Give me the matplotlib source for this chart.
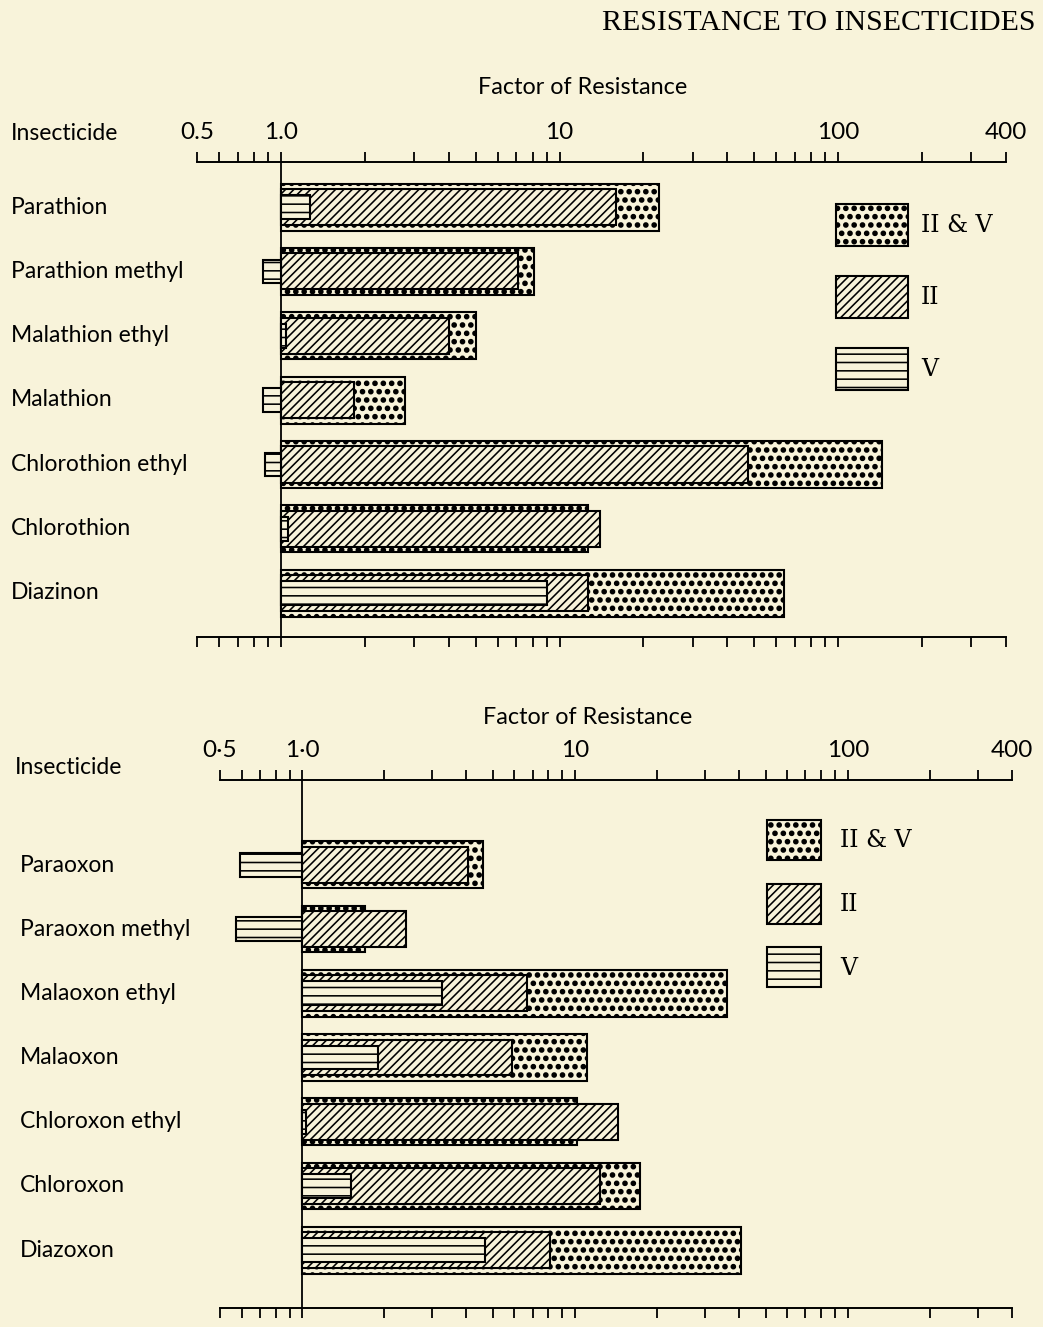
import matplotlib
matplotlib.use("Agg")
import matplotlib.pyplot as plt
import matplotlib.hatch as mhatch
from matplotlib.patches import Patch
from matplotlib.ticker import FixedLocator, FixedFormatter, NullFormatter
import numpy as np

# the printed stipple has larger dots than matplotlib's default "." hatch
mhatch.SmallFilledCircles.size = 0.24
plt.rcParams["hatch.linewidth"] = 1.15

PAPER = "#f8f3da"
SANS = "Lato"
SERIF = "DejaVu Serif"

# -------------------------------------------------
# Data (factor of resistance)
# -------------------------------------------------
top_names = [
    "Parathion",
    "Parathion methyl",
    "Malathion ethyl",
    "Malathion",
    "Chlorothion ethyl",
    "Chlorothion",
    "Diazinon",
]
top_both = [22.8, 8.1, 5.0, 2.8, 143, 12.7, 64]
top_ii = [16.0, 7.1, 4.0, 1.83, 47.6, 14.0, 12.7]
top_v = [1.27, 0.86, 1.04, 0.86, 0.88, 1.06, 9.0]

bottom_names = [
    "Paraoxon",
    "Paraoxon methyl",
    "Malaoxon ethyl",
    "Malaoxon",
    "Chloroxon ethyl",
    "Chloroxon",
    "Diazoxon",
]
bottom_both = [4.6, 1.7, 36, 11.1, 10.2, 17.3, 40.5]
bottom_ii = [4.06, 2.4, 6.7, 5.9, 14.4, 12.4, 8.1]
bottom_v = [0.59, 0.57, 3.26, 1.9, 1.03, 1.51, 4.7]

major_ticks = [0.5, 1, 10, 100, 400]
minor_ticks = [0.6, 0.7, 0.8, 0.9, 2, 3, 4, 5, 6, 7, 8, 9,
               20, 30, 40, 50, 60, 70, 80, 90, 200, 300]
top_tick_labels = ["0.5", "1.0", "10", "100", "400"]
bottom_tick_labels = ["0·5", "1·0", "10", "100", "400"]

legend_labels = ["II & V", "II", "V"]

W, H = 1043, 1327


def fx(px):
    return px / W


def fy(py):
    return 1 - py / H


def draw_panel(ax, names, both, ii, v, tick_labels, ylim, legend_box, legend_kw):
    y = np.arange(len(names))
    both = np.asarray(both)
    ii = np.asarray(ii)
    v = np.asarray(v)

    ax.set_xscale("log")
    ax.set_facecolor(PAPER)

    bar_kw = dict(left=1.0, edgecolor="black", linewidth=1.5, facecolor=PAPER)
    ax.barh(y, both - 1.0, height=0.73, hatch="..", **bar_kw)
    ax.barh(y, ii - 1.0, height=0.56, hatch="////", **bar_kw)
    ax.barh(y, v - 1.0, height=0.37, hatch="--", **bar_kw)

    ax.axvline(1.0, color="black", linewidth=1.3)

    ax.set_xlim(0.5, 400)
    ax.set_ylim(*ylim)

    ax.xaxis.set_major_locator(FixedLocator(major_ticks))
    ax.xaxis.set_major_formatter(FixedFormatter(tick_labels))
    ax.xaxis.set_minor_locator(FixedLocator(minor_ticks))
    ax.xaxis.set_minor_formatter(NullFormatter())
    ax.tick_params(axis="x", which="both", top=True, bottom=True,
                   direction="out", length=7, width=1.3,
                   labeltop=True, labelbottom=False, pad=7,
                   labelsize=17.5)
    for lab in ax.get_xticklabels():
        lab.set_family(SANS)
    ax.set_yticks([])

    for side in ["left", "right"]:
        ax.spines[side].set_visible(False)
    for side in ["top", "bottom"]:
        ax.spines[side].set_linewidth(1.4)

    handles = [
        Patch(facecolor=PAPER, edgecolor="black", hatch="..", linewidth=1.5),
        Patch(facecolor=PAPER, edgecolor="black", hatch="////", linewidth=1.5),
        Patch(facecolor=PAPER, edgecolor="black", hatch="--", linewidth=1.5),
    ]
    ax.legend(
        handles,
        legend_labels,
        loc="upper left",
        bbox_to_anchor=legend_box,
        bbox_transform=ax.figure.transFigure,
        frameon=False,
        prop={"family": SERIF, "size": 17},
        borderpad=0,
        borderaxespad=0,
        **legend_kw,
    )


fig = plt.figure(figsize=(10.43, 13.27), dpi=100)
fig.patch.set_facecolor(PAPER)

ax_top = fig.add_axes([fx(197), fy(637), fx(1006) - fx(197), fy(162) - fy(637)])
ax_bot = fig.add_axes([fx(220), fy(1308), fx(1012) - fx(220), fy(780) - fy(1308)])

draw_panel(
    ax_top, top_names, top_both, top_ii, top_v, top_tick_labels,
    ylim=(6.68, -0.70),
    legend_box=(fx(836), fy(204)),
    legend_kw=dict(handlelength=3.05, handleheight=2.36,
                   labelspacing=1.27, handletextpad=0.55),
)
draw_panel(
    ax_bot, bottom_names, bottom_both, bottom_ii, bottom_v, bottom_tick_labels,
    ylim=(6.90, -1.32),
    legend_box=(fx(767), fy(820)),
    legend_kw=dict(handlelength=2.29, handleheight=2.23,
                   labelspacing=1.0, handletextpad=0.8),
)

# row labels
for i, name in enumerate(top_names):
    yy = 207 + i * 64.3
    fig.text(fx(11), fy(yy), name, family=SANS, fontsize=16.5, va="center", ha="left")
for i, name in enumerate(bottom_names):
    yy = 865 + i * 64.2
    fig.text(fx(20), fy(yy), name, family=SANS, fontsize=16.5, va="center", ha="left")

fig.text(fx(11), fy(133), "Insecticide", family=SANS, fontsize=16.5, va="center")
fig.text(fx(15), fy(768), "Insecticide", family=SANS, fontsize=16.5, va="center")
fig.text(fx(583), fy(88), "Factor of Resistance", family=SANS, fontsize=16.8,
         ha="center", va="center")
fig.text(fx(588), fy(717), "Factor of Resistance", family=SANS, fontsize=16.8,
         ha="center", va="center")

fig.text(fx(1035), fy(23), "RESISTANCE TO INSECTICIDES", family="Liberation Serif",
         fontsize=21.5, ha="right", va="center")

fig.savefig("out.png", dpi=100, facecolor=PAPER)
